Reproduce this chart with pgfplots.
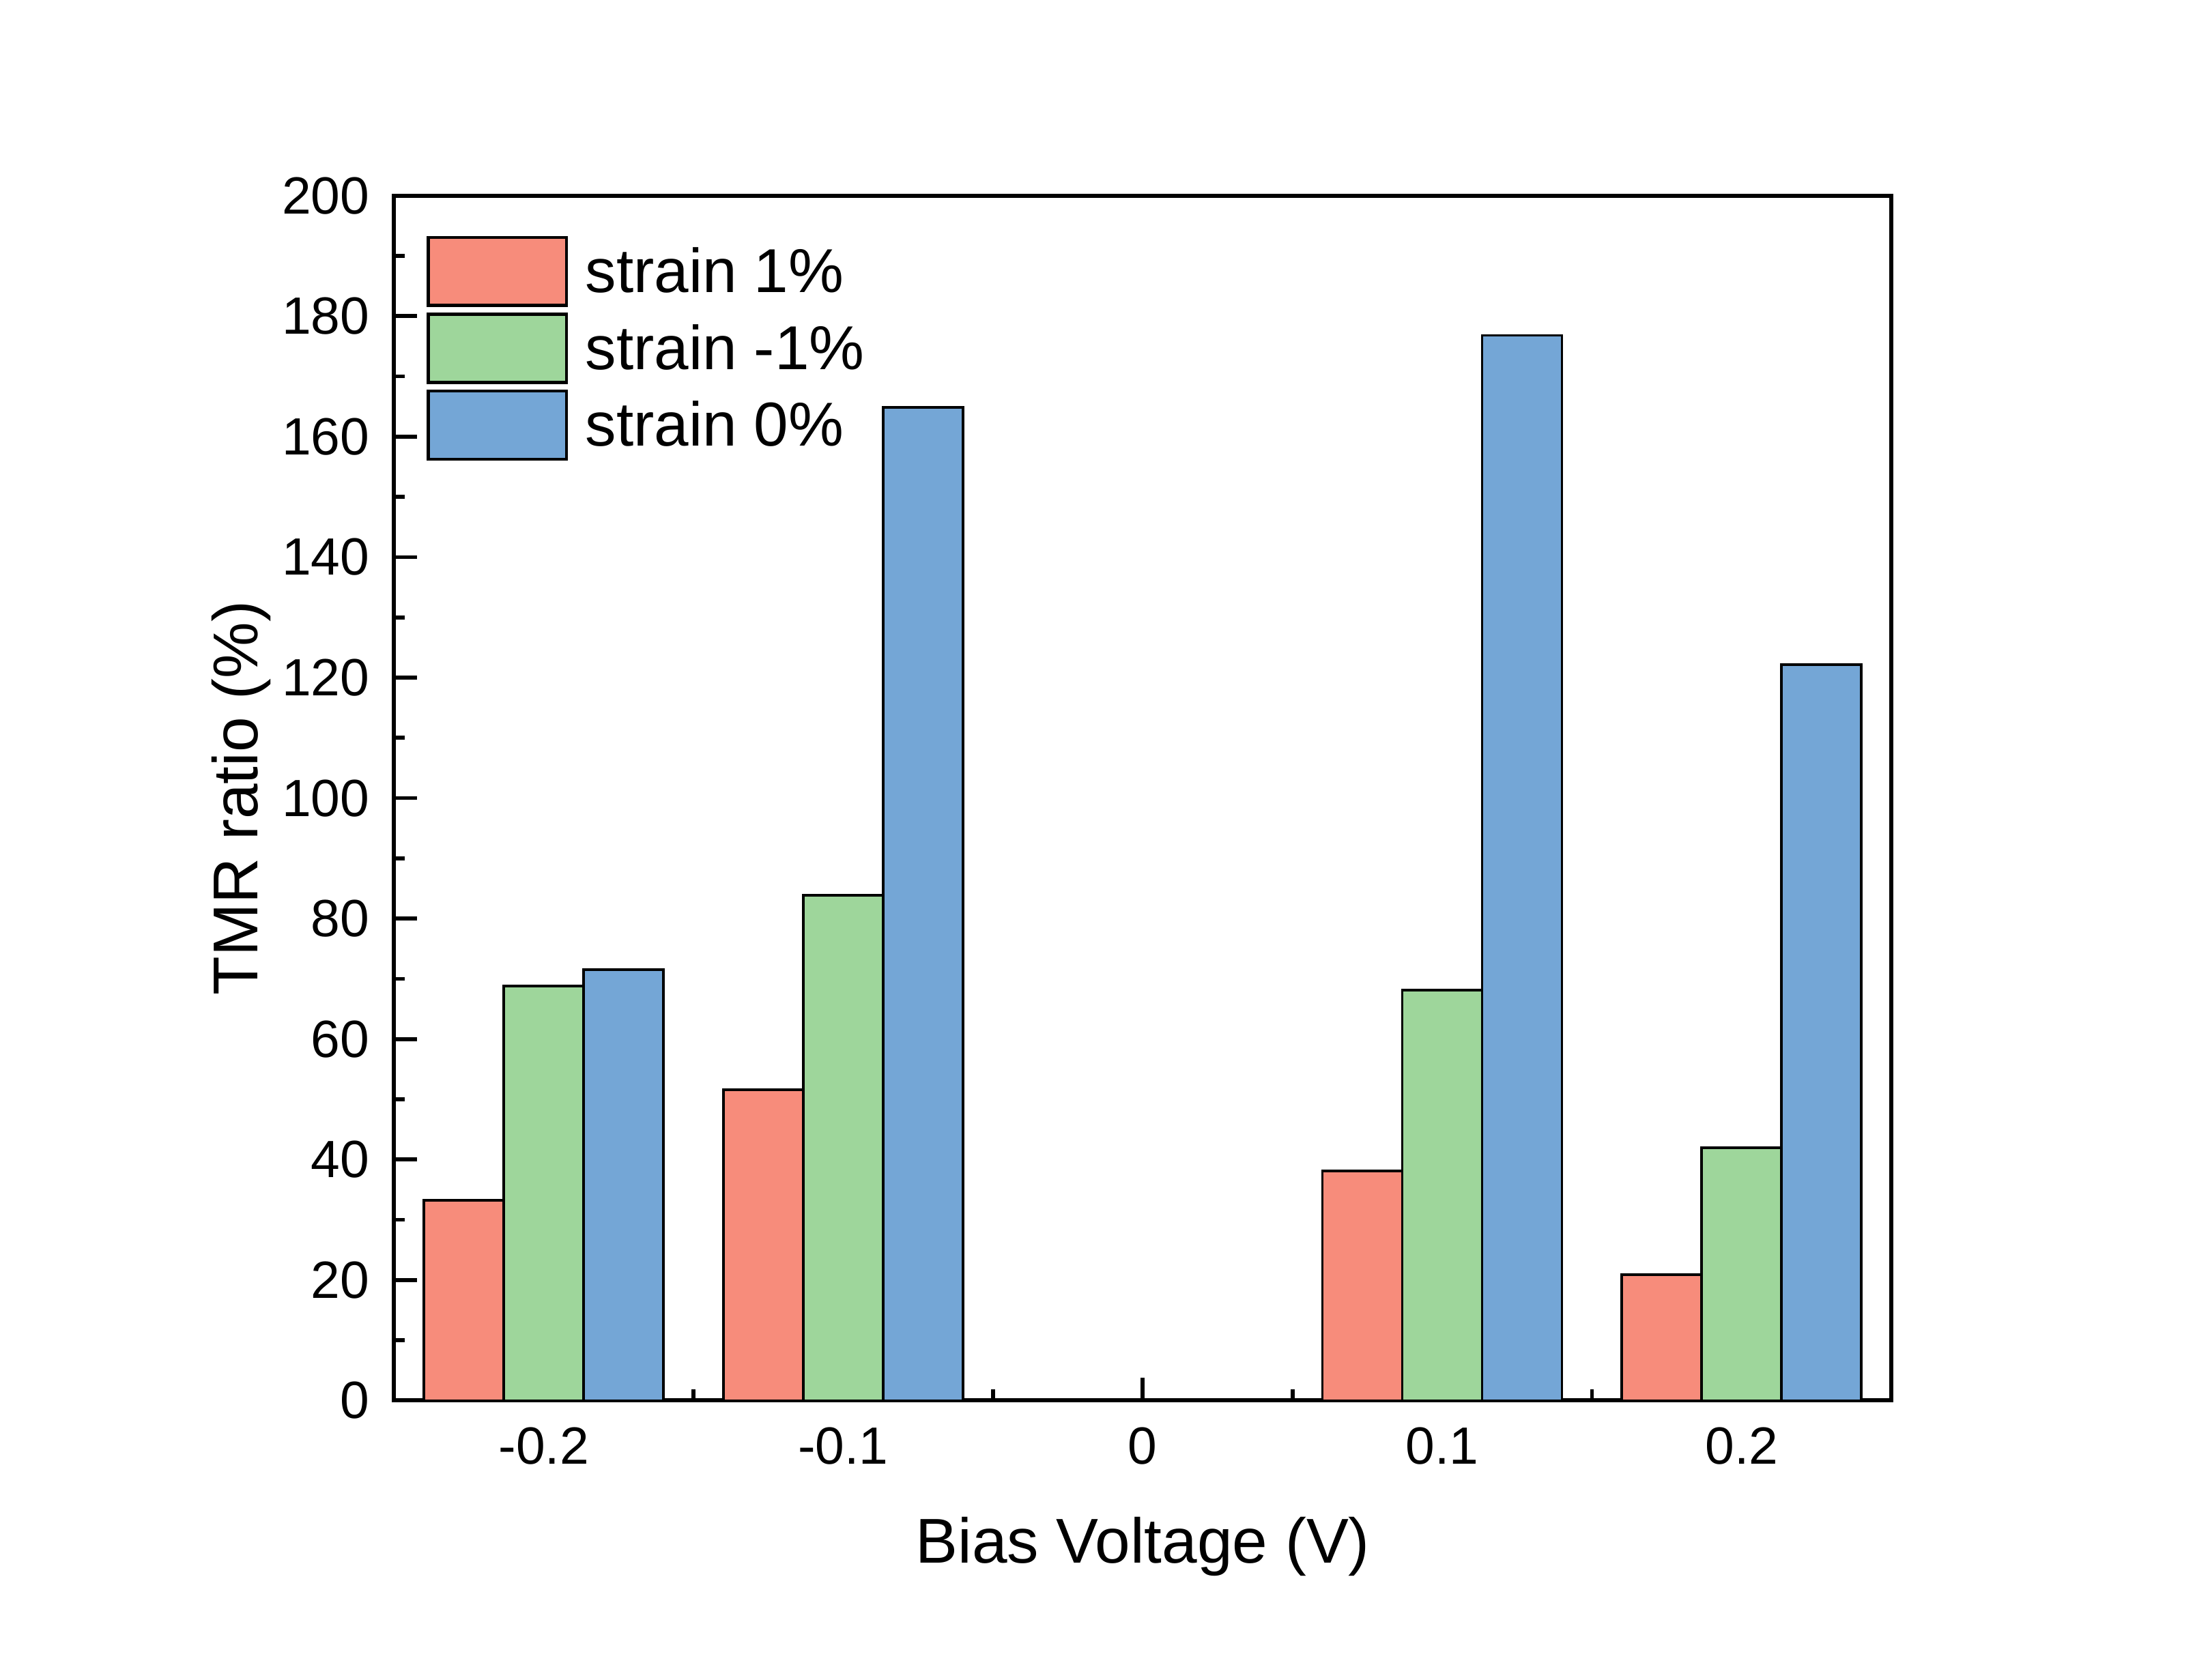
\documentclass[border=0pt]{standalone}
\usepackage{pgfplots}
\pgfplotsset{compat=1.18}
\usepackage{fontspec}
\setmainfont{Liberation Sans}
\usetikzlibrary{calc}
\definecolor{cRed}{RGB}{247,140,123}
\definecolor{cGreen}{RGB}{158,214,155}
\definecolor{cBlue}{RGB}{116,166,214}
\begin{document}
\begin{tikzpicture}
\begin{axis}[
  scale only axis, width=342.8pt, height=275.9pt,
  xmin=-0.25, xmax=0.25, ymin=0, ymax=200,
  xtick={-0.2,-0.1,0,0.1,0.2},
  xticklabels={-0.2,-0.1,0,0.1,0.2},
  minor xtick={-0.15,-0.05,0.05,0.15},
  ytick={0,20,...,200},
  minor ytick={10,30,...,190},
  tick pos=left, tick align=inside,
  major tick length=5.3pt, minor tick length=2.5pt,
  tick style={black, line width=0.9pt},
  axis line style={line width=0.94pt},
  /pgf/number format/assume math mode=true,
  ticklabel style={font=\fontsize{12}{14}\selectfont},
  xticklabel style={yshift=-2.7pt},
  yticklabel style={xshift=-2.1pt},
  xlabel={Bias Voltage (V)}, ylabel={TMR ratio (\%)},
  label style={font=\fontsize{14.5}{17}\selectfont},
  xlabel style={at={($(axis description cs:0.5,0)+(0,-37.2pt)$)}, anchor=base},
  ylabel style={at={($(axis description cs:0,0.5)+(-31.25pt,0)$)}, anchor=base},
  legend style={at={(axis description cs:0,1)}, anchor=north west,
    xshift=7.5pt, yshift=-9.2pt, draw=none, fill=none, inner sep=0pt, outer sep=0pt,
    font=\fontsize{14.2}{17}\selectfont, row sep=1.3pt, column sep=4pt,
    nodes={inner sep=0pt}, cells={anchor=base west}},
  legend image code/.code={\draw[#1, line width=0.7pt] (0pt,-3pt) rectangle (31.6pt,12.6pt);},
]
\addplot[ybar, bar width=0.02667, bar shift=-0.02667, fill=cRed, draw=black, line width=0.6pt]
  coordinates {(-0.2,33.2) (-0.1,51.6) (0.1,38.1) (0.2,20.9)};
\addlegendentry{strain 1\%}
\addplot[ybar, bar width=0.02667, bar shift=0, fill=cGreen, draw=black, line width=0.6pt]
  coordinates {(-0.2,68.8) (-0.1,83.9) (0.1,68.1) (0.2,42.0)};
\addlegendentry{strain -1\%}
\addplot[ybar, bar width=0.02667, bar shift=0.02667, fill=cBlue, draw=black, line width=0.6pt]
  coordinates {(-0.2,71.5) (-0.1,164.9) (0.1,176.8) (0.2,122.2)};
\addlegendentry{strain 0\%}
\end{axis}
\pgfresetboundingbox
\path ($(current axis.south west)+(-90.2pt,-63.9pt)$) rectangle ($(current axis.north east)+(69.5pt,44.8pt)$);
\end{tikzpicture}
\end{document}
